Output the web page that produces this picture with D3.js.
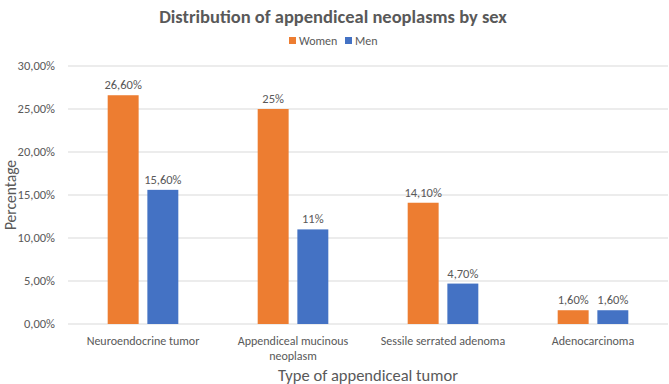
<!DOCTYPE html>
<html><head><meta charset="utf-8">
<script src="https://cdn.jsdelivr.net/npm/d3@7"></script>
<style>body{margin:0;background:#fff}svg{display:block}text{font-family:Calibri,Carlito,Lato,sans-serif}</style>
</head><body><svg id="c" width="669" height="384"></svg>
<script>
const categories = [["Neuroendocrine tumor"], ["Appendiceal mucinous", "neoplasm"], ["Sessile serrated adenoma"], ["Adenocarcinoma"]];
const seriesNames = ["Women", "Men"];
const women = [26.6, 25, 14.1, 1.6];
const men = [15.6, 11, 4.7, 1.6];
const womenLabels = ["26,60%", "25%", "14,10%", "1,60%"];
const menLabels = ["15,60%", "11%", "4,70%", "1,60%"];
const yTicks = [0, 5, 10, 15, 20, 25, 30];
const yTickLabels = ["0,00%", "5,00%", "10,00%", "15,00%", "20,00%", "25,00%", "30,00%"];
const colors = ["#ED7D31", "#4472C4"];

const svg = d3.select("#c");
const txt = "#595959";
const x0 = d3.scaleBand().domain(d3.range(categories.length)).range([68, 668]);
const x1 = d3.scaleBand().domain([0, 1]).range([0, x0.bandwidth()]).paddingInner(0.22).paddingOuter(1.0);
const y = d3.scaleLinear().domain([0, 30]).range([324, 66]);

svg.append("g").selectAll("line").data(yTicks).join("line")
  .attr("x1", 68).attr("x2", 668).attr("y1", d => y(d)).attr("y2", d => y(d))
  .attr("stroke", "#d9d9d9").attr("stroke-width", 1);

svg.append("g").selectAll("text").data(yTicks).join("text")
  .attr("x", 55).attr("y", d => y(d) + 4).attr("text-anchor", "end")
  .attr("font-size", 12.5).attr("fill", txt).text((d, i) => yTickLabels[i]);

const data = [women, men];
const labels = [womenLabels, menLabels];
data.forEach((vals, s) => {
  const g = svg.append("g");
  g.selectAll("rect").data(vals).join("rect")
    .attr("x", (d, i) => x0(i) + x1(s)).attr("width", x1.bandwidth())
    .attr("y", d => y(d)).attr("height", d => y(0) - y(d)).attr("fill", colors[s]);
  g.selectAll("text").data(vals).join("text")
    .attr("x", (d, i) => x0(i) + x1(s) + x1.bandwidth() / 2).attr("y", d => y(d) - 6)
    .attr("text-anchor", "middle").attr("font-size", 12.5).attr("fill", txt)
    .text((d, i) => labels[s][i]);
});

const cat = svg.append("g").selectAll("text").data(categories).join("text")
  .attr("text-anchor", "middle").attr("font-size", 12).attr("fill", txt)
  .attr("x", (d, i) => x0(i) + x0.bandwidth() / 2).attr("y", 345);
cat.selectAll("tspan").data(d => d).join("tspan")
  .attr("x", function () { return this.parentNode.getAttribute("x"); })
  .attr("dy", (d, j) => j === 0 ? 0 : 15).text(d => d);

svg.append("text").attr("x", 368).attr("y", 381).attr("text-anchor", "middle")
  .attr("font-size", 16.5).attr("fill", txt).text("Type of appendiceal tumor");
svg.append("text").attr("transform", "translate(16,195) rotate(-90)").attr("text-anchor", "middle")
  .attr("font-size", 15.5).attr("fill", txt).text("Percentage");

svg.append("text").attr("x", 333).attr("y", 23).attr("text-anchor", "middle")
  .attr("font-size", 18.5).attr("font-weight", "bold").attr("fill", txt)
  .text("Distribution of appendiceal neoplasms by sex");

const leg = svg.append("g");
const legX = [289, 345];
seriesNames.forEach((n, i) => {
  leg.append("rect").attr("x", legX[i]).attr("y", 37).attr("width", 7).attr("height", 7).attr("fill", colors[i]);
  leg.append("text").attr("x", legX[i] + 10).attr("y", 45).attr("font-size", 12).attr("fill", txt).text(n);
});
</script></body></html>
